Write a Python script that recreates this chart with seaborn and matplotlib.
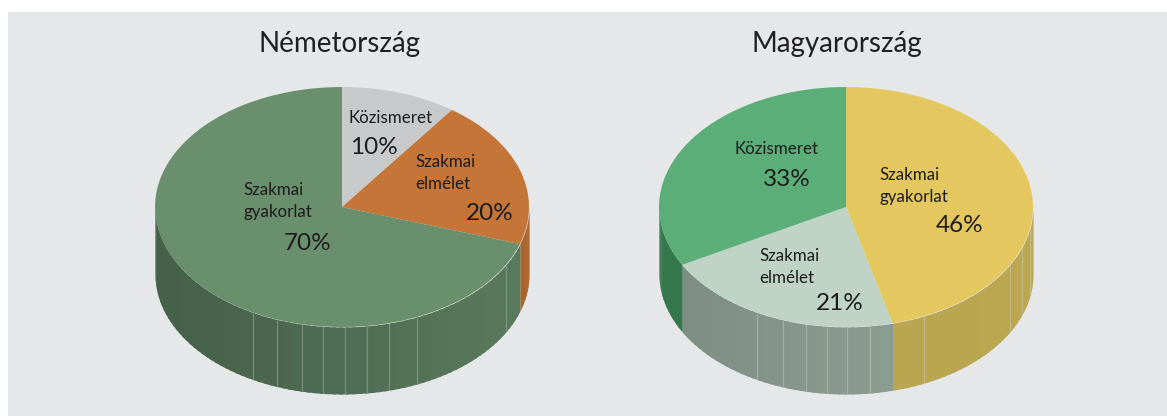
import numpy as np
import matplotlib
matplotlib.use("Agg")
import matplotlib.pyplot as plt
import seaborn as sns
from matplotlib.patches import Rectangle

# ---- data ----
titles = ["Németország", "Magyarország"]
de_categories = ["Közismeret", "Szakmai\nelmélet", "Szakmai\ngyakorlat"]
de_values = [10, 20, 70]
hu_categories = ["Szakmai\ngyakorlat", "Szakmai\nelmélet", "Közismeret"]
hu_values = [46, 21, 33]

# ---- styles ----
de_top = ["#c8c9cb", "#c47537", "#6a8f6c"]
de_side = [("#9a9b9d", "#9a9b9d"), ("#a9652c", "#a9652c"), ("#446047", "#5a7a5d")]
hu_top = ["#e5c75f", "#bfd3c6", "#5bae78"]
hu_side = [("#b8a34f", "#bba750"), ("#7c8c83", "#95a69a"), ("#35774c", "#35774c")]
de_lines = [253, 277, 302, 323, 345, 367, 389, 417, 506]
hu_lines = [757, 783, 806, 827, 847, 870, 924, 1010, 1022, 1030]

W, H = 1167, 416
sns.set_theme(style="white")
FONT = ["Lato", "DejaVu Sans"]
plt.rcParams["font.family"] = FONT

fig = plt.figure(figsize=(W / 100, H / 100), dpi=100, facecolor="white")
fig.add_artist(Rectangle((8 / W, 0), (W - 8) / W, (H - 12) / H,
                         transform=fig.transFigure, color="#e6e7e9", lw=0, zorder=-5))

RX, RY, DEPTH = 187, 120, 67
CY = 207
TXT = "#1c1c1e"


def pie3d(cx, values, top, side, lines, line_color):
    d = DEPTH / RY
    ax = fig.add_axes([(cx - RX) / W, (H - CY - RY - DEPTH) / H,
                       2 * RX / W, (2 * RY + DEPTH) / H])
    ax.patch.set_visible(False)
    edges = np.concatenate([[0], np.cumsum(values)]) / np.sum(values) * 360
    for i, (c0, c1) in enumerate(side):
        a, b = max(edges[i], 90), min(edges[i + 1], 270)
        if b <= a:
            continue
        ts = np.arange(a, b + 2, 2.0)
        ts[-1] = b
        pal = sns.blend_palette([c0, c1], 41)
        for t0, t1 in zip(ts[:-1], ts[1:]):
            # each strip reaches under the next one, so no seam shows between them
            t = np.radians(np.linspace(t0, min(t1 + 1.0, b), 6))
            x, y = np.sin(t), np.cos(t)
            col = pal[int(round((1 + np.sin(np.radians((t0 + t1) / 2))) / 2 * 40))]
            ax.fill_between(x, y - d, y, color=col, lw=0, zorder=1)
    for px in lines:
        x = (px - cx) / RX
        y = -np.sqrt(max(1 - x * x, 0))
        ax.vlines(x, y - d, y, color=line_color, lw=0.9, alpha=0.45, zorder=2)
    ax.pie(values, colors=top, startangle=90, counterclock=False, radius=1,
           wedgeprops={"linewidth": 0, "zorder": 3})
    ax.set_aspect("auto")
    ax.set_xlim(-1, 1)
    ax.set_ylim(-1 - d, 1)
    ax.axis("off")
    return ax


pie3d(342, de_values, de_top, de_side, de_lines, "#a9baa9")
pie3d(846, hu_values, hu_top, hu_side, hu_lines, "#c8cfc4")


def label(px, py, s, size=12.2):
    fig.text(px / W, 1 - (py + 2) / H, s, ha="left", va="center", fontsize=size,
             color=TXT, family=FONT, linespacing=1.5, zorder=10)


def pct(v):
    return f"{v}%"


fig.text(340 / W, 1 - 44 / H, titles[0], ha="center", va="center", fontsize=20,
         color="#202024", family=FONT, zorder=10)
fig.text(837 / W, 1 - 44 / H, titles[1], ha="center", va="center", fontsize=20,
         color="#202024", family=FONT, zorder=10)

PS = 17.5
label(348, 116, de_categories[0])
label(350, 146, pct(de_values[0]), PS)
label(415, 171, de_categories[1])
label(466, 212, pct(de_values[1]), PS)
label(243, 199, de_categories[2])
label(284, 242, pct(de_values[2]), PS)

label(734, 147, hu_categories[2])
label(763, 177, pct(hu_values[2]), PS)
label(879, 184, hu_categories[0])
label(936, 224, pct(hu_values[0]), PS)
label(759, 265, hu_categories[1])
label(816, 301, pct(hu_values[1]), PS)

fig.savefig("out.png", dpi=100, facecolor="white")
